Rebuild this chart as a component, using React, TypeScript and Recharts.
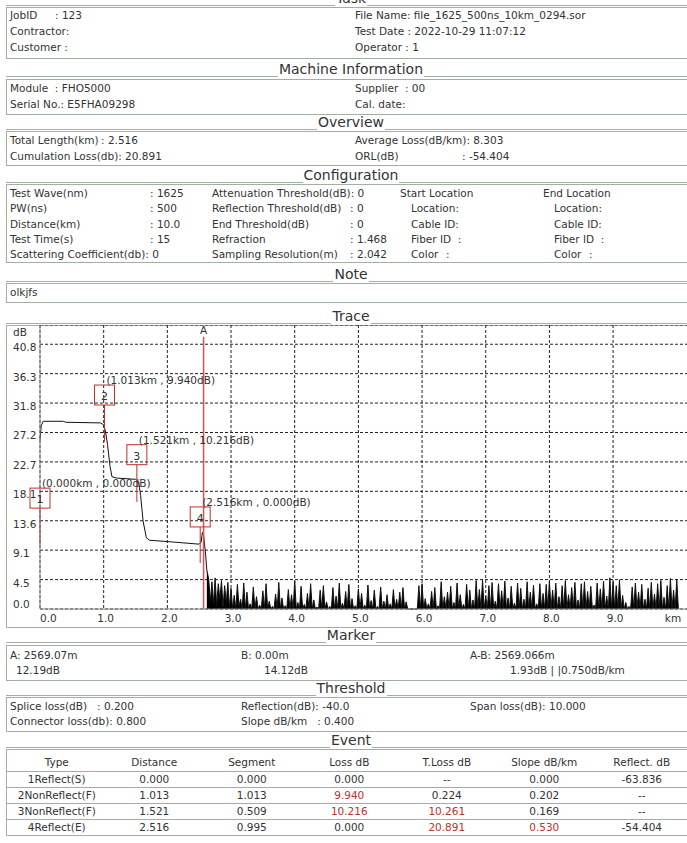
import React from "react";
import {
  ComposedChart,
  Line,
  Area,
  Scatter,
  XAxis,
  YAxis,
  CartesianGrid,
  ReferenceLine,
} from "recharts";

// trace before the fibre end (km / dB)
const traceKm = [0, 0.02, 0.05, 0.37, 0.4, 0.95, 1.0, 1.03, 1.06, 1.1, 1.13, 1.2, 1.5, 1.55, 1.58, 1.62, 1.67, 1.72, 2.0, 2.5, 2.53, 2.55, 2.57, 2.6, 2.62];
const traceDb = [26.0, 28.3, 28.95, 28.95, 28.8, 28.7, 28.4, 27.3, 25.4, 22.0, 20.4, 20.2, 20.0, 19.6, 17.5, 13.5, 11.0, 10.6, 10.4, 10.0, 10.3, 11.8, 11.3, 8.5, 6.0];

// noise floor after the end event, one sample every NOISE_STEP km
const NOISE_START = 2.65;
const NOISE_STEP = 0.025;
const noiseDb = [
  4.6, 1.2, 4.2, 0.8, 4.8, 0.5, 3.9, 1.5, 4.4, 0.3, 3.6, 0.9, 4.1, 0.2,
  3.2, 0, 2.1, 0, 3.8, 0.4, 1.5, 0, 4.0, 0, 2.6, 0, 0.8, 0, 3.4, 0, 1.9, 0, 0.6, 0,
  2.8, 0, 3.9, 0, 1.2, 0, 0.4, 0, 2.3, 0, 4.1, 0, 1.7, 0, 0.5, 0, 3.0, 0, 2.2, 0,
  4.3, 0, 1.0, 0, 3.5, 0, 0.7, 0, 2.4, 0, 3.9, 0, 1.4, 0, 0.3, 0, 2.9, 0, 3.6, 0,
  1.1, 0, 0.4, 0, 3.3, 0, 2.0, 0, 4.0, 0, 0.9, 0, 2.7, 0, 3.8, 0, 1.6, 0, 0.5, 0,
  3.1, 0, 2.4, 0, 0.6, 0, 3.7, 0, 1.3, 0, 2.9, 0, 0.4, 0, 3.4, 0, 1.2, 0, 2.2, 0,
  0.8, 0, 3.0, 0, 1.5, 0, 2.6, 0, 3.3, 0, 1.1, 0, 0, 0, 0, 0, 0, 0, 3.6, 0,
  3.9, 0, 1.6, 0, 0.8, 0, 2.7, 0, 3.3, 0, 0.5, 0, 4.2, 0, 1.9, 0, 2.6, 0, 3.5, 0,
  1.0, 0, 4.0, 0, 2.2, 0, 0.7, 0, 3.8, 0, 2.9, 0, 1.4, 0, 4.4, 0, 3.0, 0,
  4.5, 0, 2.0, 0, 3.6, 0, 4.1, 0, 1.2, 0, 3.9, 0, 2.8, 0, 4.3, 0, 1.7, 0, 3.5, 0,
  0.9, 0, 4.0, 0, 3.2, 0, 1.5, 0, 4.2, 0, 2.6, 0, 3.7, 0, 0.8, 0, 3.9, 0, 2.4, 0,
  3.8, 0, 4.3, 0, 2.9, 0, 4.0, 0, 1.9, 0, 3.6, 0, 4.4, 0, 2.2, 0, 3.3, 0, 4.1, 0,
  1.4, 0, 3.9, 0, 4.2, 0, 2.7, 0, 3.5, 0, 0.6, 0, 4.0, 0, 3.1, 0, 4.3, 0, 2.0, 0,
  4.8, 0, 4.2, 0, 3.6, 0, 4.5, 0, 2.1, 0, 1.0, 0, 0.4, 0, 3.4, 0, 4.0, 0, 2.6, 0,
  3.8, 0, 1.5, 0, 3.2, 0, 4.1, 0, 2.3, 0, 3.9, 0, 4.4, 0, 1.8, 0, 3.6, 0, 4.7, 0, 2.9, 0, 4.6, 0,
];

// events
const eventKm = [0.0, 1.013, 1.521, 2.516];
const eventBoxDb = [17.1, 33.0, 23.8, 14.2];
const eventLineEndDb = [9.9, 25.8, 16.5, 7.1];
const eventLabels = ["(0.000km , 0.000dB)", "(1.013km , 9.940dB)", "(1.521km , 10.216dB)", "(2.516km , 0.000dB)"];

const markerAKm = 2.569;

const yTicks = [0, 4.537, 9.074, 13.611, 18.148, 22.685, 27.222, 31.759, 36.296, 40.833];
const xTicks = [0, 1, 2, 3, 4, 5, 6, 7, 8, 9];

// event table
const evHeaders = ["Type", "Distance", "Segment", "Loss dB", "T.Loss dB", "Slope dB/km", "Reflect. dB"];
const evRows = [
  ["1Reflect(S)", "0.000", "0.000", "0.000", "--", "0.000", "-63.836"],
  ["2NonReflect(F)", "1.013", "1.013", "9.940", "0.224", "0.202", "--"],
  ["3NonReflect(F)", "1.521", "0.509", "10.216", "10.261", "0.169", "--"],
  ["4Reflect(E)", "2.516", "0.995", "0.000", "20.891", "0.530", "-54.404"],
];
const evRed = [
  [false, false, false, false, false, false, false],
  [false, false, false, true, false, false, false],
  [false, false, false, true, true, false, false],
  [false, false, false, false, true, true, false],
];

const BORDER = "#a2afa2";
const RED = "#c0302c";
const TEXT = "#333";
const FONT = "'DejaVu Sans', sans-serif";
const FS = 10.5;

const BOX_L = 6;
const BOX_W = 690;

function Txt({ x, y, children, color }: any) {
  return (
    <div
      style={{
        position: "absolute",
        left: x,
        top: y - 7,
        lineHeight: "14px",
        fontSize: FS,
        whiteSpace: "pre",
        color: color || TEXT,
      }}
    >
      {children}
    </div>
  );
}

function Section({ title, y, top, height }: any) {
  return (
    <>
      <div
        style={{
          position: "absolute",
          left: BOX_L,
          width: BOX_W,
          top: y - 9,
          height: 16,
          display: "flex",
          alignItems: "flex-end",
        }}
      >
        <div style={{ flex: 1, borderBottom: `1px solid ${BORDER}` }} />
        <div style={{ fontSize: 14, lineHeight: "16px", color: TEXT, padding: "0 1px" }}>{title}</div>
        <div style={{ flex: 1, borderBottom: `1px solid ${BORDER}` }} />
      </div>
      <div
        style={{
          position: "absolute",
          left: BOX_L,
          top,
          width: BOX_W,
          height,
          border: `1px solid ${BORDER}`,
          boxSizing: "border-box",
        }}
      />
    </>
  );
}

const EventShape = (props: any) => {
  const { cx, cy, payload } = props;
  return (
    <g>
      <rect x={cx - 10} y={cy - 10} width={20} height={20} fill="none" stroke={RED} strokeWidth={1} />
      <text x={cx} y={cy + 5} textAnchor="middle" fontSize={11} fill={TEXT} fontFamily={FONT}>
        {payload.num}
      </text>
      <text x={cx + 2} y={cy - 11} fontSize={FS} fill={TEXT} fontFamily={FONT}>
        {payload.label}
      </text>
    </g>
  );
};

const YTick = (props: any) => {
  const { y, payload } = props;
  const dy = payload.value === 0 ? -5 : 3;
  return (
    <text x={7} y={y + dy} dominantBaseline="central" fontSize={FS} fill={TEXT} fontFamily={FONT}>
      {payload.value.toFixed(1)}
    </text>
  );
};

const XTick = (props: any) => {
  const { x, y, payload } = props;
  const first = payload.value === 0;
  return (
    <text
      x={first ? x : x + 2}
      y={y + 9}
      dominantBaseline="central"
      textAnchor={first ? "start" : "middle"}
      fontSize={FS}
      fill={TEXT}
      fontFamily={FONT}
    >
      {payload.value.toFixed(1)}
    </text>
  );
};

function TraceChart() {
  const data: any[] = traceKm.map((km, i) => ({ km, db: traceDb[i] }));
  noiseDb.forEach((v, i) => {
    const km = +(NOISE_START + i * NOISE_STEP).toFixed(3);
    data.push({ km, noise: v });
  });
  // join the trace to the start of the noise
  data[traceKm.length - 1].noise = traceDb[traceDb.length - 1];
  const events = eventKm.map((km, i) => ({ km, db: eventBoxDb[i], num: i + 1, label: eventLabels[i] }));

  return (
    <ComposedChart
      width={690}
      height={302}
      data={data}
      margin={{ top: 0, right: 6.5, bottom: 0, left: 0 }}
    >
      <CartesianGrid stroke="#222" strokeDasharray="3 2" strokeWidth={1} />
      <XAxis
        type="number"
        dataKey="km"
        domain={[0, 10.2]}
        ticks={xTicks}
        tickSize={0}
        tickMargin={0}
        height={18}
        stroke="#8a8a8a"
        tick={<XTick />}
        interval={0}
      />
      <YAxis
        type="number"
        domain={[0, 43.8]}
        ticks={yTicks}
        width={34}
        tickSize={0}
        stroke="#8a8a8a"
        tick={<YTick />}
        interval={0}
      />
      <Area
        type="linear"
        dataKey="noise"
        stroke="#111"
        strokeWidth={1}
        fill="#000"
        fillOpacity={1}
        dot={false}
        activeDot={false}
        isAnimationActive={false}
      />
      <Line
        type="linear"
        dataKey="db"
        stroke="#111"
        strokeWidth={1}
        dot={false}
        activeDot={false}
        isAnimationActive={false}
      />
      {eventKm.map((km, i) => (
        <ReferenceLine
          key={i}
          segment={[
            { x: km, y: eventBoxDb[i] - 1.55 },
            { x: km, y: eventLineEndDb[i] },
          ]}
          stroke={RED}
          strokeWidth={1}
          ifOverflow="visible"
        />
      ))}
      <ReferenceLine
        segment={[
          { x: markerAKm, y: 42.0 },
          { x: markerAKm, y: 0 },
        ]}
        stroke="#d9534f"
        strokeWidth={1.5}
        ifOverflow="visible"
        label={(p: any) => (
          <text
            x={p.viewBox.x}
            y={p.viewBox.y - 7}
            textAnchor="middle"
            dominantBaseline="central"
            fontSize={FS}
            fill={TEXT}
            fontFamily={FONT}
          >
            A
          </text>
        )}
      />
      <Scatter
        data={events}
        dataKey="db"
        shape={<EventShape />}
        isAnimationActive={false}
      />
      <text x={667} y={293} dominantBaseline="central" textAnchor="middle" fontSize={FS} fill={TEXT} fontFamily={FONT}>
        km
      </text>
      <text x={7} y={7} dominantBaseline="central" fontSize={FS} fill={TEXT} fontFamily={FONT}>
        dB
      </text>
    </ComposedChart>
  );
}

const colLeft = 8;
const colW = 97.5;

export default function App() {
  return (
    <div
      style={{
        position: "absolute",
        left: 0,
        top: 0,
        width: 687,
        height: 843,
        overflow: "hidden",
        background: "#fff",
        fontFamily: FONT,
        color: TEXT,
      }}
    >
      <Section title="Task" y={-1} top={7} height={52} />
      <Txt x={10} y={15}>JobID</Txt>
      <Txt x={55} y={15}>: 123</Txt>
      <Txt x={10} y={31}>Contractor:</Txt>
      <Txt x={10} y={47}>Customer :</Txt>
      <Txt x={355} y={15}>File Name: file_1625_500ns_10km_0294.sor</Txt>
      <Txt x={355} y={31}>Test Date : 2022-10-29 11:07:12</Txt>
      <Txt x={355} y={47}>Operator : 1</Txt>

      <Section title="Machine Information" y={70} top={79} height={36} />
      <Txt x={10} y={88}>Module  : FHO5000</Txt>
      <Txt x={10} y={104}>Serial No.: E5FHA09298</Txt>
      <Txt x={355} y={88}>Supplier  : 00</Txt>
      <Txt x={355} y={104}>Cal. date:</Txt>

      <Section title="Overview" y={123} top={131} height={35} />
      <Txt x={10} y={140}>Total Length(km)</Txt>
      <Txt x={101} y={140}>: 2.516</Txt>
      <Txt x={10} y={156}>Cumulation Loss(db): 20.891</Txt>
      <Txt x={355} y={140}>Average Loss(dB/km): 8.303</Txt>
      <Txt x={355} y={156}>ORL(dB)</Txt>
      <Txt x={462} y={156}>: -54.404</Txt>

      <Section title="Configuration" y={176} top={184} height={79} />
      <Txt x={10} y={193}>Test Wave(nm)</Txt>
      <Txt x={150} y={193}>: 1625</Txt>
      <Txt x={10} y={208}>PW(ns)</Txt>
      <Txt x={150} y={208}>: 500</Txt>
      <Txt x={10} y={224}>Distance(km)</Txt>
      <Txt x={150} y={224}>: 10.0</Txt>
      <Txt x={10} y={239}>Test Time(s)</Txt>
      <Txt x={150} y={239}>: 15</Txt>
      <Txt x={10} y={254}>Scattering Coefficient(db): 0</Txt>
      <Txt x={212} y={193}>Attenuation Threshold(dB): 0</Txt>
      <Txt x={212} y={208}>Reflection Threshold(dB)</Txt>
      <Txt x={350} y={208}>: 0</Txt>
      <Txt x={212} y={224}>End Threshold(dB)</Txt>
      <Txt x={350} y={224}>: 0</Txt>
      <Txt x={212} y={239}>Refraction</Txt>
      <Txt x={350} y={239}>: 1.468</Txt>
      <Txt x={212} y={254}>Sampling Resolution(m)</Txt>
      <Txt x={350} y={254}>: 2.042</Txt>
      <Txt x={400} y={193}>Start Location</Txt>
      <Txt x={411} y={208}>Location:</Txt>
      <Txt x={411} y={224}>Cable ID:</Txt>
      <Txt x={411} y={239}>Fiber ID  :</Txt>
      <Txt x={411} y={254}>Color</Txt>
      <Txt x={446} y={254}>:</Txt>
      <Txt x={543} y={193}>End Location</Txt>
      <Txt x={554} y={208}>Location:</Txt>
      <Txt x={554} y={224}>Cable ID:</Txt>
      <Txt x={554} y={239}>Fiber ID  :</Txt>
      <Txt x={554} y={254}>Color</Txt>
      <Txt x={589} y={254}>:</Txt>

      <Section title="Note" y={275} top={283} height={20} />
      <Txt x={10} y={292}>olkjfs</Txt>

      <Section title="Trace" y={317} top={325} height={303} />
      <div style={{ position: "absolute", left: BOX_L, top: 325 }}>
        <TraceChart />
      </div>

      <Section title="Marker" y={636} top={645} height={36} />
      <Txt x={10} y={655}>A: 2569.07m</Txt>
      <Txt x={16} y={670}>12.19dB</Txt>
      <Txt x={241} y={655}>B: 0.00m</Txt>
      <Txt x={264} y={670}>14.12dB</Txt>
      <Txt x={470} y={655}>A-B: 2569.066m</Txt>
      <Txt x={510} y={670}>1.93dB | |0.750dB/km</Txt>

      <Section title="Threshold" y={689} top={697} height={35} />
      <Txt x={10} y={706}>Splice loss(dB)</Txt>
      <Txt x={97} y={706}>: 0.200</Txt>
      <Txt x={10} y={721}>Connector loss(db): 0.800</Txt>
      <Txt x={241} y={706}>Reflection(dB): -40.0</Txt>
      <Txt x={241} y={721}>Slope dB/km   : 0.400</Txt>
      <Txt x={470} y={706}>Span loss(dB): 10.000</Txt>

      <Section title="Event" y={741} top={749} height={87} />
      {evHeaders.map((h, c) => (
        <div
          key={h}
          style={{
            position: "absolute",
            left: colLeft + c * colW,
            width: colW,
            top: 755,
            lineHeight: "14px",
            fontSize: FS,
            textAlign: "center",
          }}
        >
          {h}
        </div>
      ))}
      {evRows.map((row, r) => (
        <React.Fragment key={r}>
          <div
            style={{
              position: "absolute",
              left: BOX_L,
              width: BOX_W,
              top: 771 + r * 16,
              borderTop: `1px solid ${BORDER}`,
            }}
          />
          {row.map((cell, c) => (
            <div
              key={c}
              style={{
                position: "absolute",
                left: colLeft + c * colW,
                width: colW,
                top: 772 + r * 16,
                lineHeight: "14px",
                fontSize: FS,
                textAlign: "center",
                color: evRed[r][c] ? RED : TEXT,
              }}
            >
              {cell}
            </div>
          ))}
        </React.Fragment>
      ))}
    </div>
  );
}
